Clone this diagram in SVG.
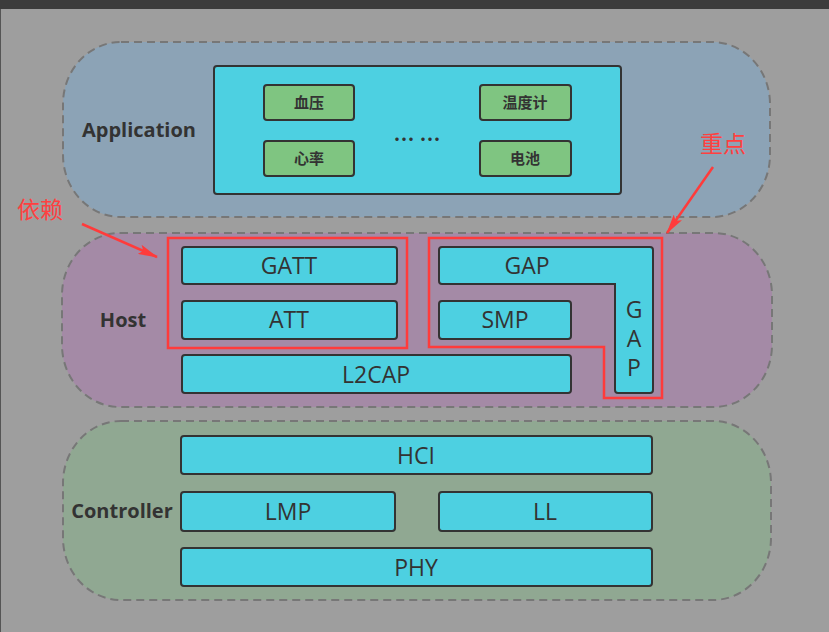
<svg xmlns="http://www.w3.org/2000/svg" width="829" height="632" viewBox="0 0 829 632">
<style>
.layer{stroke:#777;stroke-width:2;stroke-dasharray:8 5}
.box{fill:#4dd0e1;stroke:#333;stroke-width:2}
.app{fill:#7fc581;stroke:#333;stroke-width:2}
.t{font-family:"Open Sans","Liberation Sans",sans-serif;font-size:23px;fill:#333;text-anchor:middle}
.lbl{font-family:"Open Sans","Liberation Sans",sans-serif;font-size:20px;font-weight:bold;fill:#333;text-anchor:middle}
.cn{font-family:"Noto Sans CJK SC",sans-serif;font-size:15px;font-weight:bold;fill:#333;text-anchor:middle}
.red{fill:none;stroke:#ff3b3b;stroke-width:2.5}
.note{font-family:"Noto Sans CJK SC",sans-serif;font-size:23px;fill:#ff4040}
.arr{stroke:#ff3b3b;stroke-width:2.5;fill:none}
</style>
<defs>
<marker id="ah" viewBox="0 0 20 10" refX="19" refY="5" markerWidth="20" markerHeight="10" markerUnits="userSpaceOnUse" orient="auto">
<path d="M0,0 L20,5 L0,10 L4,5 Z" fill="#ff3b3b"/>
</marker>
</defs>
<rect x="0" y="0" width="829" height="632" fill="#9e9e9e"/>
<rect x="0" y="0" width="829" height="9" fill="#3c3c3c"/>
<rect x="0" y="9" width="1" height="623" fill="#555"/>

<g id="application">
<rect class="layer" x="63" y="42" width="707" height="175" rx="58" ry="62" fill="#8ca3b6"/>
<text class="lbl" x="139" y="137">Application</text>
<rect class="box" x="214" y="66" width="407" height="128" rx="3"/>
</g>
<g id="xueya"><rect class="app" x="264" y="85" width="90" height="35" rx="3"/><text class="cn" x="309" y="108">血压</text></g>
<g id="xinlv"><rect class="app" x="264" y="141" width="90" height="35" rx="3"/><text class="cn" x="309" y="164">心率</text></g>
<g id="wenduji"><rect class="app" x="480" y="85" width="91" height="35" rx="3"/><text class="cn" x="525" y="108">温度计</text></g>
<g id="dianchi"><rect class="app" x="480" y="141" width="91" height="35" rx="3"/><text class="cn" x="525" y="164">电池</text></g>
<g id="dots"><text class="cn" x="417" y="147" style="font-size:21px">… …</text></g>

<g id="host">
<rect class="layer" x="62" y="233" width="710" height="174" rx="58" ry="62" fill="#a48aa6"/>
<text class="lbl" x="123" y="327">Host</text>
</g>
<g id="gatt"><rect class="box" x="182" y="247" width="215" height="37" rx="3"/><text class="t" x="289" y="274">GATT</text></g>
<g id="att"><rect class="box" x="182" y="301" width="215" height="38" rx="3"/><text class="t" x="289" y="328">ATT</text></g>
<g id="l2cap"><rect class="box" x="182" y="355" width="389" height="38" rx="3"/><text class="t" x="376" y="383">L2CAP</text></g>
<g id="gap">
<path class="box" d="M442,247 H650 Q653,247 653,250 V390 Q653,393 650,393 H618 Q615,393 615,390 V284 H442 Q439,284 439,281 V250 Q439,247 442,247 Z"/>
<text class="t" x="527" y="274">GAP</text>
<text class="t" x="634" y="318">G</text>
<text class="t" x="634" y="347">A</text>
<text class="t" x="634" y="376">P</text>
</g>
<g id="smp"><rect class="box" x="439" y="301" width="132" height="38" rx="3"/><text class="t" x="505" y="328">SMP</text></g>
<g id="dep-box"><rect class="red" x="168" y="238" width="239" height="110"/></g>
<g id="key-box"><path class="red" d="M429,238 H662 V398 H604 V347 H429 Z"/></g>

<g id="controller">
<rect class="layer" x="63" y="421" width="708" height="179" rx="58" ry="62" fill="#90a892"/>
<text class="lbl" x="122" y="518">Controller</text>
</g>
<g id="hci"><rect class="box" x="181" y="436" width="471" height="38" rx="3"/><text class="t" x="416" y="464">HCI</text></g>
<g id="lmp"><rect class="box" x="181" y="492" width="214" height="39" rx="3"/><text class="t" x="288" y="520">LMP</text></g>
<g id="ll"><rect class="box" x="439" y="492" width="213" height="39" rx="3"/><text class="t" x="545" y="520">LL</text></g>
<g id="phy"><rect class="box" x="181" y="548" width="471" height="38" rx="3"/><text class="t" x="416" y="576">PHY</text></g>

<g id="notes">
<text class="note" x="17" y="218">依赖</text>
<text class="note" x="700" y="152">重点</text>
</g>
<g id="connectors">
<line class="arr" x1="82" y1="224" x2="157" y2="257" marker-end="url(#ah)"/>
<line class="arr" x1="713" y1="167" x2="667" y2="233" marker-end="url(#ah)"/>
</g>
</svg>
